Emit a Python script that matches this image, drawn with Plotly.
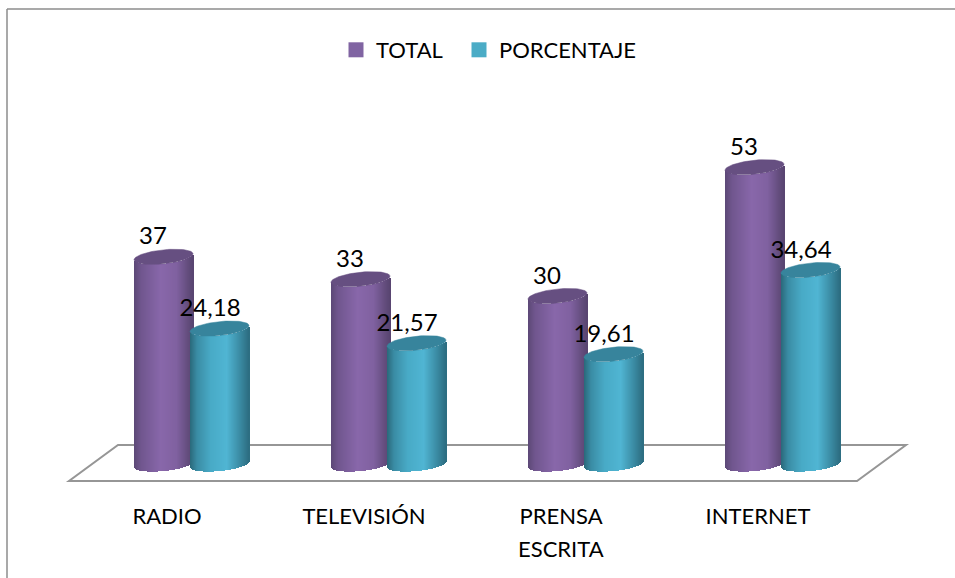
import numpy as np
import plotly.graph_objects as go

categories = ["RADIO", "TELEVISIÓN", "PRENSA\nESCRITA", "INTERNET"]
total = [37, 33, 30, 53]
porcentaje = [24.18, 21.57, 19.61, 34.64]
total_labels = ["37", "33", "30", "53"]
porcentaje_labels = ["24,18", "21,57", "19,61", "34,64"]

W, H = 955, 578
L, R, T, B = 60, 920, 100, 495   # plot area in page pixels
X0, DX = 191.0, 197.0           # page x of category 0 and per-category step
Y0, DY = 464.0, 5.6             # page y of value 0 and pixels per unit
FONT = "Lato"
TXT = "#000000"

def xval(px):
    return (px - X0) / DX
def yval(py):
    return (Y0 - py) / DY
def xp(px):
    return (px - L) / (R - L)
def yp(py):
    return (B - py) / (B - T)

HALF = 29.5   # half width of a cylinder in px
MINOR = 7.0   # vertical half-size of the ellipses in px
SHEAR = 3.0   # the right edge rises by this much (px) relative to centre

def lerp_stops(stops, t):
    ts = [s[0] for s in stops]
    return "rgb(%d,%d,%d)" % tuple(
        int(round(np.interp(t, ts, [s[1][c] for s in stops]))) for c in range(3))

purple_stops = [(0, (92, 72, 118)), (0.12, (112, 86, 142)), (0.45, (136, 103, 170)),
                (0.72, (128, 97, 160)), (0.92, (98, 76, 124)), (1, (88, 68, 112))]
teal_stops = [(0, (42, 104, 122)), (0.12, (58, 140, 164)), (0.35, (72, 170, 198)),
              (0.62, (80, 181, 211)), (0.85, (58, 138, 162)), (1, (44, 108, 128))]
purple_cap = "#664f81"
teal_cap = "#37849c"

N = 59
x_cats = np.arange(len(categories))
fig = go.Figure()

def add_cylinders(values, centre_px, stops, cap):
    values = np.array(values, dtype=float)
    for k in range(N):
        u0 = -1 + 2 * k / N
        u1 = -1 + 2 * (k + 1) / N
        um = (u0 + u1) / 2
        shear_px = -SHEAR * um + MINOR * np.sqrt(max(0, 1 - um ** 2))
        base = -shear_px / DY
        top = values - shear_px / DY
        fig.add_bar(
            x=x_cats, y=top - base, base=base,
            offset=(centre_px + u0 * HALF - X0) / DX,
            width=(u1 - u0) * HALF * 1.25 / DX,
            marker=dict(color=lerp_stops(stops, (um + 1) / 2), line_width=0),
            showlegend=False, hoverinfo="skip",
        )
    t = np.linspace(0, 2 * np.pi, 80)
    for i, v in enumerate(values):
        xs = DX * i + centre_px + HALF * np.cos(t)
        ys = (Y0 - DY * v) - SHEAR * np.cos(t) + MINOR * np.sin(t)
        fig.add_scatter(x=xval(xs), y=yval(ys), mode="lines", fill="toself",
                        fillcolor=cap, line=dict(color=cap, width=0.5),
                        showlegend=False, hoverinfo="skip")

PC, TC = 163.5, 219.5
add_cylinders(total, PC, purple_stops, purple_cap)
add_cylinders(porcentaje, TC, teal_stops, teal_cap)

# value labels
fig.add_scatter(x=x_cats + xval(PC - 10.5), y=np.array(total) + 18.5 / DY,
                mode="text", text=total_labels, textposition="middle center",
                textfont=dict(family=FONT, size=24, color=TXT),
                showlegend=False, hoverinfo="skip")
fig.add_scatter(x=x_cats + xval(TC - 9.5), y=np.array(porcentaje) + 18.5 / DY,
                mode="text", text=porcentaje_labels, textposition="middle center",
                textfont=dict(family=FONT, size=24, color=TXT),
                showlegend=False, hoverinfo="skip")

# legend entries
fig.add_scatter(x=[None], y=[None], mode="markers", name="TOTAL", legend="legend",
                marker=dict(symbol="square", size=15, color="#8064a2"))
fig.add_scatter(x=[None], y=[None], mode="markers", name="PORCENTAJE", legend="legend2",
                marker=dict(symbol="square", size=15, color="#4bacc6"))

first_lines = [c.split("\n")[0] for c in categories]
shapes = [
    dict(type="path", xref="paper", yref="paper", layer="below",
         path="M %f,%f L %f,%f L %f,%f L %f,%f Z" % (
             xp(69), yp(481), xp(857), yp(481), xp(906), yp(445), xp(118), yp(445)),
         line=dict(color="#969696", width=2), fillcolor="white"),
    dict(type="line", xref="paper", yref="paper", layer="below",
         x0=xp(7), y0=yp(578), x1=xp(7), y1=yp(9), line=dict(color="#8c8c8c", width=1.5)),
    dict(type="line", xref="paper", yref="paper", layer="below",
         x0=xp(7), y0=yp(9), x1=xp(955), y1=yp(9), line=dict(color="#8c8c8c", width=1.5)),
]
annotations = []
for i, c in enumerate(categories):
    parts = c.split("\n")
    for j, line in enumerate(parts[1:], start=1):
        annotations.append(dict(x=i + xval(X0 - 24), xref="x", y=yp(515 + 33 * j), yref="paper",
                                text=line, showarrow=False, xanchor="center", yanchor="middle",
                                font=dict(family=FONT, size=22, color=TXT)))

legend_base = dict(orientation="h", yanchor="middle", bgcolor="rgba(0,0,0,0)",
                   font=dict(family=FONT, size=22, color=TXT),
                   itemclick=False, itemdoubleclick=False)

fig.update_layout(
    width=W, height=H, autosize=False,
    margin=dict(l=L, r=W - R, t=T, b=H - B, pad=0),
    paper_bgcolor="white", plot_bgcolor="rgba(0,0,0,0)",
    barmode="overlay", bargap=0,
    font=dict(family=FONT, color=TXT),
    showlegend=True,
    legend=dict(x=xp(336), y=yp(50), xanchor="left", **legend_base),
    legend2=dict(x=xp(459), y=yp(50), xanchor="left", **legend_base),
    xaxis=dict(range=[xval(L), xval(R)], showgrid=False, zeroline=False, showline=False,
               tickmode="array", tickvals=list(x_cats + xval(X0 - 24)), ticktext=first_lines,
               tickfont=dict(family=FONT, size=22, color=TXT),
               ticks="outside", ticklen=2, tickcolor="rgba(0,0,0,0)", fixedrange=True),
    yaxis=dict(range=[yval(B), yval(T)], showgrid=False, zeroline=False, showline=False,
               showticklabels=False, ticks="", fixedrange=True),
    shapes=shapes, annotations=annotations,
)
fig.write_html("out.html", config=dict(displayModeBar=False),
               post_script="document.body.style.margin='0';document.body.style.overflow='hidden';")
